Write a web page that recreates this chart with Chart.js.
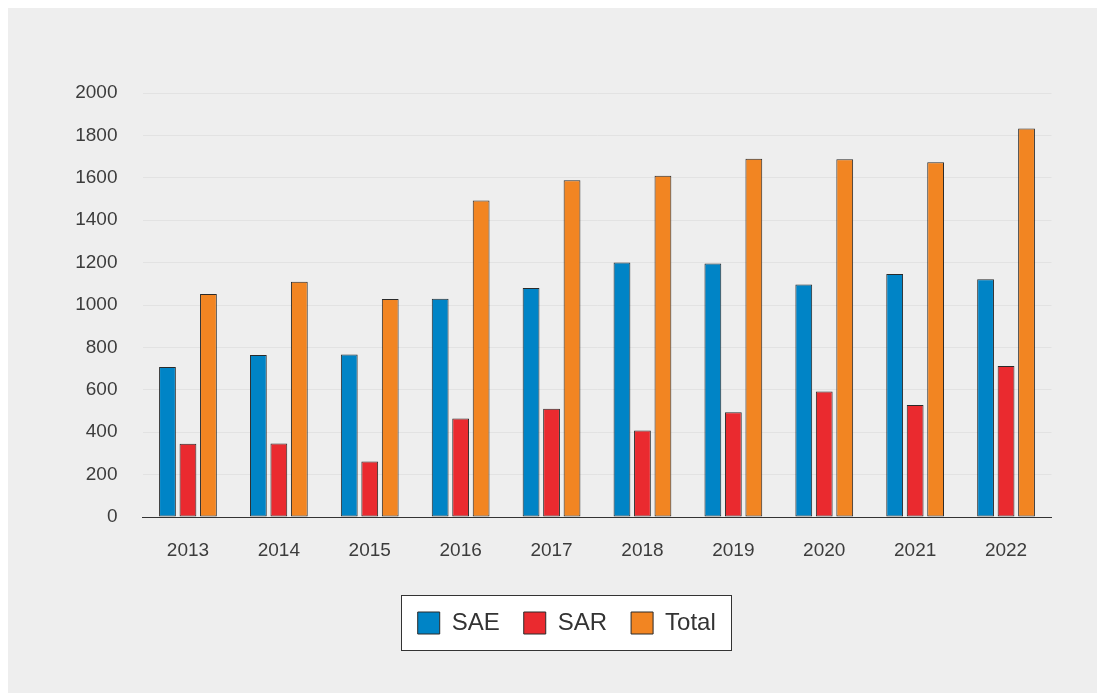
<!DOCTYPE html>
<html>
<head>
<meta charset="utf-8">
<script src="https://cdn.jsdelivr.net/npm/chart.js@4/dist/chart.umd.min.js"></script>
<style>
  html, body { margin: 0; padding: 0; background: #ffffff; }
  #wrap { position: relative; width: 1098px; height: 693px; }
  canvas { display: block; }
</style>
</head>
<body>
<div id="wrap"><canvas id="c" width="1098" height="693"></canvas></div>
<script>
// Yearly counts
const years = ['2013', '2014', '2015', '2016', '2017', '2018', '2019', '2020', '2021', '2022'];
const sae   = [707, 764, 767, 1030, 1080, 1201, 1196, 1097, 1146, 1121];
const sar   = [346, 347, 262, 465, 511, 408, 494, 592, 528, 712];
const total = [1052, 1110, 1028, 1493, 1589, 1610, 1690, 1687, 1673, 1833];
const yTicks = [0, 200, 400, 600, 800, 1000, 1200, 1400, 1600, 1800, 2000];

const FONT = '"Liberation Sans", Arial, sans-serif';
const TEXT = '#3c3c3c';
const LEGEND_SHIFT = 41;

// Grey panel behind the chart and white frame behind the legend
const panelPlugin = {
  id: 'panel',
  afterLayout(chart) {
    // nudge the legend to the right; its hit boxes are rebuilt afterwards
    const lg = chart.legend;
    if (!lg) return;
    lg.left += LEGEND_SHIFT;
    lg.right += LEGEND_SHIFT;
  },
  beforeDraw(chart) {
    const ctx = chart.ctx;
    ctx.save();
    ctx.fillStyle = '#eeeeee';
    ctx.fillRect(8, 8, chart.width - 9, chart.height - 8);
    const boxes = chart.legend && chart.legend.legendHitBoxes;
    if (boxes && boxes.length) {
      const l = Math.min(...boxes.map(b => b.left));
      const r = Math.max(...boxes.map(b => b.left + b.width));
      const t = Math.min(...boxes.map(b => b.top));
      const bt = Math.max(...boxes.map(b => b.top + b.height));
      const x0 = Math.round(l - 17) + 0.5, x1 = Math.round(r + 15) + 0.5;
      const y0 = Math.round((t + bt) / 2 - 28) + 0.5, y1 = Math.round((t + bt) / 2 + 27) + 0.5;
      ctx.fillStyle = '#ffffff';
      ctx.fillRect(x0, y0, x1 - x0, y1 - y0);
      ctx.strokeStyle = '#333333';
      ctx.lineWidth = 1;
      ctx.strokeRect(x0, y0, x1 - x0, y1 - y0);
    }
    ctx.restore();
  }
};

const common = {
  borderColor: '#2a2a2a', borderWidth: 1, borderSkipped: false,
  categoryPercentage: 0.676, barPercentage: 0.82
};

new Chart(document.getElementById('c'), {
  type: 'bar',
  data: {
    labels: years,
    datasets: [
      Object.assign({ label: 'SAE',   data: sae,   backgroundColor: '#0084c6' }, common),
      Object.assign({ label: 'SAR',   data: sar,   backgroundColor: '#ea2a2f' }, common),
      Object.assign({ label: 'Total', data: total, backgroundColor: '#f28522' }, common)
    ]
  },
  options: {
    responsive: false,
    animation: false,
    devicePixelRatio: 1,
    layout: { padding: { top: 93, right: 46.5, bottom: 48, left: 0 } },
    plugins: {
      tooltip: { enabled: false },
      legend: {
        position: 'bottom',
        labels: {
          boxWidth: 22, boxHeight: 22, padding: 24,
          color: '#333333',
          font: { family: FONT, size: 24 }
        }
      }
    },
    scales: {
      x: {
        grid: { display: false, drawTicks: false },
        border: { display: true, color: '#333333', width: 1 },
        ticks: { color: TEXT, font: { family: FONT, size: 19 }, padding: 22 },
        afterFit(s) { s.height = 70; }
      },
      y: {
        min: 0, max: 2000,
        afterBuildTicks(s) { s.ticks = yTicks.map(v => ({ value: v })); },
        grid: { color: '#e2e2e2', lineWidth: 1, drawTicks: false },
        border: { display: false },
        ticks: {
          color: TEXT, font: { family: FONT, size: 19 }, padding: 25,
          callback: v => String(v)
        },
        afterFit(s) { s.width = 142.5; }
      }
    }
  },
  plugins: [panelPlugin]
});
</script>
</body>
</html>
